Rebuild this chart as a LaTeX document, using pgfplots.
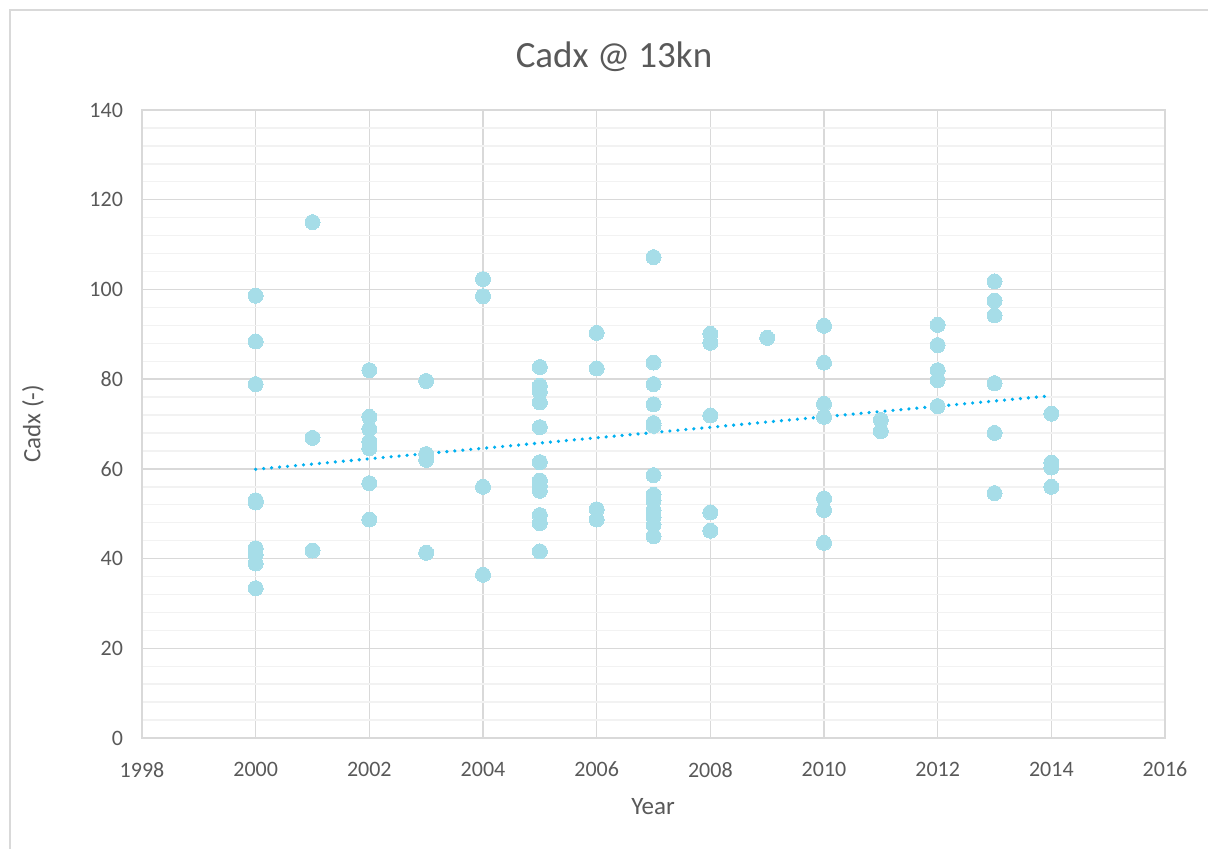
\documentclass[border=0pt]{standalone}
\usepackage{pgfplots}
\pgfplotsset{compat=1.18}
\usepackage{fontspec}
\setmainfont{Carlito}
\definecolor{txt}{HTML}{595959}
\definecolor{majg}{HTML}{D9D9D9}
\definecolor{ming}{HTML}{F2F2F2}
\definecolor{dotc}{HTML}{A6DDE8}
\definecolor{trend}{HTML}{00B0F0}
\pgfplotstableread{
x y
2000 98.6
2000 88.4
2000 78.9
2000 53.0
2000 52.5
2000 42.3
2000 40.8
2000 38.9
2000 33.4
2001 115.0
2001 66.9
2001 41.8
2002 82.0
2002 71.6
2002 68.9
2002 66.1
2002 64.6
2002 56.8
2002 48.7
2003 79.6
2003 63.3
2003 62.0
2003 41.3
2004 102.3
2004 98.5
2004 56.0
2004 36.4
2005 82.7
2005 78.5
2005 77.2
2005 74.8
2005 69.3
2005 61.5
2005 57.4
2005 56.2
2005 55.1
2005 49.7
2005 47.9
2005 41.6
2006 90.3
2006 82.4
2006 51.0
2006 48.7
2007 107.2
2007 83.7
2007 78.9
2007 74.4
2007 70.2
2007 69.6
2007 58.6
2007 54.2
2007 52.9
2007 50.8
2007 49.2
2007 47.5
2007 45.0
2008 90.1
2008 88.1
2008 71.9
2008 50.3
2008 46.2
2009 89.2
2010 91.9
2010 83.7
2010 74.5
2010 71.6
2010 53.4
2010 50.8
2010 43.5
2011 70.9
2011 68.4
2012 92.1
2012 87.6
2012 82.0
2012 79.8
2012 74.0
2013 101.8
2013 97.5
2013 94.2
2013 79.1
2013 68.0
2013 54.6
2014 72.3
2014 61.4
2014 60.3
2014 56.0
}\cadx
\begin{document}
\begin{tikzpicture}
\path[use as bounding box] (0,0) rectangle (604pt,424pt);
\draw[majg, line width=0.6pt] (5pt,-20pt) rectangle (640pt,419pt);
\begin{axis}[
  at={(71pt,55pt)}, anchor=south west,
  scale only axis, width=511.5pt, height=314pt,
  xmin=1998, xmax=2016, ymin=0, ymax=140,
  xtick={1998,2000,...,2016}, ytick={0,20,...,140},
  minor y tick num=4,
  xmajorgrids, ymajorgrids, yminorgrids,
  major grid style={majg, line width=0.7pt},
  minor grid style={ming, line width=0.7pt},
  axis line style={majg, line width=0.7pt},
  major tick length=0pt, minor tick length=0pt,
  tick style={draw=none},
  /pgf/number format/assume math mode=true,
  /pgf/number format/1000 sep={},
  ticklabel style={font=\fontsize{11}{13}\selectfont, text=txt},
  xticklabel style={yshift=-8.5pt},
  yticklabel style={xshift=-6pt},
  clip=false,
]
\addplot[only marks, mark=*, mark size=3.75pt, color=dotc, mark options={draw=dotc, fill=dotc, line width=0pt}] table[x=x,y=y] {\cadx};
\addplot[trend, line width=1.8pt, line cap=round, dash pattern=on 0pt off 4pt] coordinates {(2000,59.9) (2014,76.3)};
\end{axis}
\node[text=txt, font=\fontsize{18.5}{21}\selectfont] at (307pt,395.5pt) {Cadx @ 13kn};
\node[text=txt, font=\fontsize{12.5}{14}\selectfont] at (326.5pt,20.5pt) {Year};
\node[text=txt, font=\fontsize{12.5}{14}\selectfont, rotate=90] at (16.5pt,212pt) {Cadx (-)};
\end{tikzpicture}
\end{document}
